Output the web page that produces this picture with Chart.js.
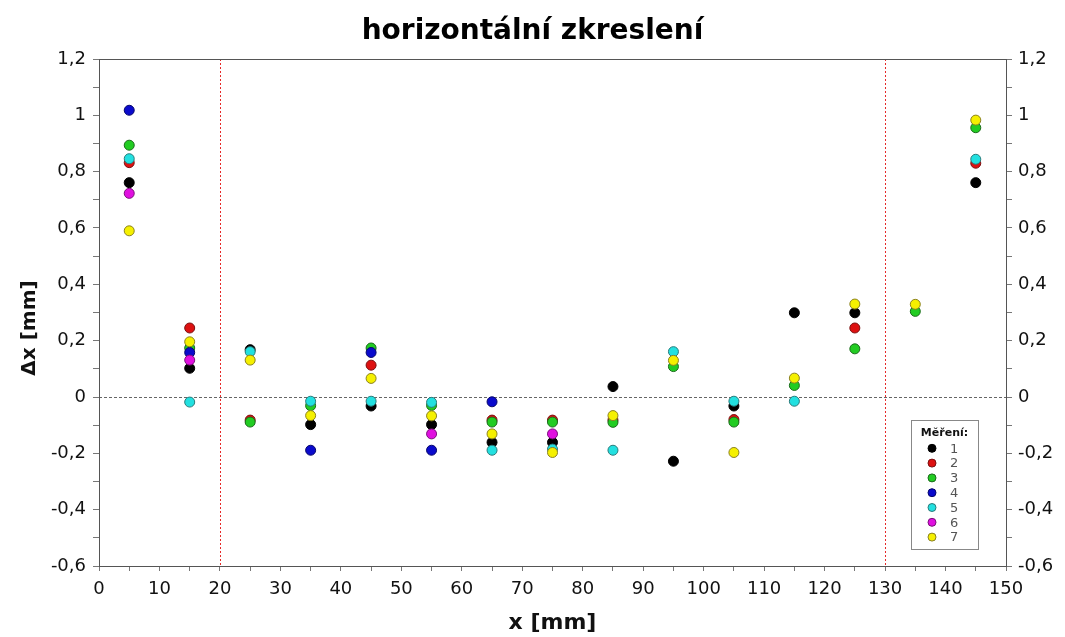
<!DOCTYPE html>
<html>
<head>
<meta charset="utf-8">
<script src="https://cdn.jsdelivr.net/npm/chart.js@4.4.1/dist/chart.umd.min.js"></script>
<style>
html,body{margin:0;padding:0;background:#fff;}
#wrap{width:1065px;height:637px;}
</style>
</head>
<body>
<div id="wrap"><canvas id="c" width="1065" height="637"></canvas></div>
<script>
const xPositions = [5, 15, 25, 35, 45, 55, 65, 75, 85, 95, 105, 115, 125, 135, 145];
const seriesNames = ['1', '2', '3', '4', '5', '6', '7'];
const mereni1 = [0.761, 0.102, 0.168, -0.098, -0.032, -0.098, -0.161, -0.161, 0.037, -0.228, -0.032, 0.299, 0.299, null, 0.761];
const mereni2 = [0.832, 0.245, -0.082, null, 0.113, null, -0.082, -0.082, -0.082, null, -0.080, null, 0.245, null, 0.830];
const mereni3 = [0.894, 0.174, -0.089, -0.031, 0.174, -0.030, -0.089, -0.089, -0.090, 0.108, -0.089, 0.041, 0.171, 0.304, 0.956];
const mereni4 = [1.018, 0.158, null, -0.189, 0.158, -0.189, -0.017, null, null, null, null, null, null, null, null];
const mereni5 = [0.846, -0.018, 0.161, -0.015, -0.015, -0.019, -0.189, -0.185, -0.189, 0.161, -0.015, -0.015, null, null, 0.844];
const mereni6 = [0.723, 0.131, null, null, null, -0.131, null, -0.131, null, null, null, null, null, null, null];
const mereni7 = [0.590, 0.196, 0.131, -0.066, 0.066, -0.067, -0.131, -0.197, -0.066, 0.130, -0.197, 0.067, 0.330, 0.329, 0.983];
const referenceLinesX = [20, 130];

const allSeries = [mereni1, mereni2, mereni3, mereni4, mereni5, mereni6, mereni7];
const fillColors = ['#000000', '#dd1111', '#22cc22', '#0a0acc', '#22e0e0', '#e010e0', '#f5f000'];
const edgeColors = ['#000000', '#7a1010', '#1a6a1a', '#06066a', '#2a7a7a', '#7a107a', '#8a8020'];

const datasets = allSeries.map((vals, i) => ({
  label: seriesNames[i],
  data: xPositions.map((x, j) => vals[j] === null ? null : {x: x, y: vals[j]}).filter(p => p !== null),
  backgroundColor: fillColors[i],
  borderColor: edgeColors[i],
  borderWidth: 1,
  pointRadius: 5,
  pointHoverRadius: 5,
  order: allSeries.length - 1 - i,
  yAxisID: 'y'
}));

const fmt = v => {
  const r = Math.round(v * 10);
  if (r % 2 !== 0) return '';
  const s = (r / 10).toString().replace('.', ',');
  return s === '-0' ? '0' : s;
};
const fmtX = v => (Math.round(v) % 10 !== 0 ? '' : String(Math.round(v)));

const decor = {
  id: 'decor',
  beforeDatasetsDraw(chart) {
    const {ctx, chartArea: a, scales} = chart;
    ctx.save();
    const y0 = scales.y.getPixelForValue(0);
    ctx.strokeStyle = '#666';
    ctx.lineWidth = 1;
    ctx.setLineDash([3, 2]);
    ctx.beginPath();
    ctx.moveTo(a.left, Math.round(y0) + 0.5);
    ctx.lineTo(a.right, Math.round(y0) + 0.5);
    ctx.stroke();
    ctx.strokeStyle = '#e62828';
    ctx.setLineDash([2, 2]);
    referenceLinesX.forEach(xv => {
      const xp = Math.round(scales.x.getPixelForValue(xv)) + 0.5;
      ctx.beginPath();
      ctx.moveTo(xp, a.top);
      ctx.lineTo(xp, a.bottom);
      ctx.stroke();
    });
    ctx.restore();
  },
  afterDraw(chart) {
    const {ctx, chartArea: a} = chart;
    ctx.save();
    ctx.strokeStyle = '#555';
    ctx.lineWidth = 1;
    ctx.setLineDash([]);
    ctx.strokeRect(Math.round(a.left) + 0.5, Math.round(a.top) + 0.5, Math.round(a.right - a.left), Math.round(a.bottom - a.top));
    // y-axis title
    ctx.save();
    ctx.translate(30, 328);
    ctx.rotate(-Math.PI / 2);
    ctx.fillStyle = '#111';
    ctx.font = 'bold 20px "DejaVu Sans"';
    ctx.textAlign = 'center';
    ctx.textBaseline = 'middle';
    ctx.fillText('Δx [mm]', 0, 0);
    ctx.restore();
    // legend box
    const bx = 911, by = 420, bw = 67, bh = 129;
    ctx.fillStyle = '#fff';
    ctx.fillRect(bx, by, bw, bh);
    ctx.strokeStyle = '#888';
    ctx.strokeRect(bx + 0.5, by + 0.5, bw, bh);
    ctx.fillStyle = '#111';
    ctx.font = 'bold 11px "DejaVu Sans"';
    ctx.textAlign = 'center';
    ctx.textBaseline = 'middle';
    ctx.fillText('Měření:', bx + bw / 2, 433);
    ctx.font = '13px "DejaVu Sans"';
    ctx.textAlign = 'left';
    chart.data.datasets.forEach((ds, i) => {
      const yy = 448.3 + i * 14.8;
      ctx.beginPath();
      ctx.arc(932, yy, 4, 0, Math.PI * 2);
      ctx.fillStyle = ds.backgroundColor;
      ctx.fill();
      ctx.strokeStyle = ds.borderColor;
      ctx.lineWidth = 1;
      ctx.stroke();
      ctx.fillStyle = '#555';
      ctx.fillText(ds.label, 950, yy + 1);
    });
    ctx.restore();
  }
};

const tickFont = {family: 'DejaVu Sans', size: 18};
const titleFont = {family: 'DejaVu Sans', size: 22, weight: 'bold'};

new Chart(document.getElementById('c'), {
  type: 'scatter',
  data: {datasets},
  options: {
    responsive: false,
    animation: false,
    layout: {padding: 0},
    plugins: {
      legend: {display: false},
      tooltip: {enabled: false},
      title: {
        display: true,
        text: 'horizontální zkreslení',
        font: {family: 'DejaVu Sans', size: 28, weight: 'bold'},
        color: '#000',
        padding: {top: 15, bottom: 10.4}
      }
    },
    scales: {
      x: {
        type: 'linear',
        min: 0, max: 150,
        afterFit(s) { s.height = 71; },
        grid: {drawOnChartArea: false, tickLength: 5, tickColor: '#777'},
        border: {display: true, color: '#555'},
        ticks: {stepSize: 5, autoSkip: false, maxRotation: 0, font: tickFont, color: '#111', padding: 8, callback: fmtX},
        title: {display: true, text: 'x [mm]', font: titleFont, color: '#111', padding: {top: 0, bottom: 1}}
      },
      y: {
        type: 'linear',
        position: 'left',
        min: -0.6, max: 1.2,
        afterFit(s) { s.width = 99; },
        grid: {drawOnChartArea: false, tickLength: 6, tickColor: '#777'},
        border: {display: true, color: '#555'},
        ticks: {stepSize: 0.1, autoSkip: false, font: tickFont, color: '#111', padding: 7, callback: fmt}
      },
      y2: {
        type: 'linear',
        position: 'right',
        min: -0.6, max: 1.2,
        afterFit(s) { s.width = 59; },
        grid: {drawOnChartArea: false, tickLength: 6, tickColor: '#777'},
        border: {display: true, color: '#555'},
        ticks: {stepSize: 0.1, autoSkip: false, font: tickFont, color: '#111', padding: 6, callback: fmt}
      }
    }
  },
  plugins: [decor]
});
</script>
</body>
</html>
